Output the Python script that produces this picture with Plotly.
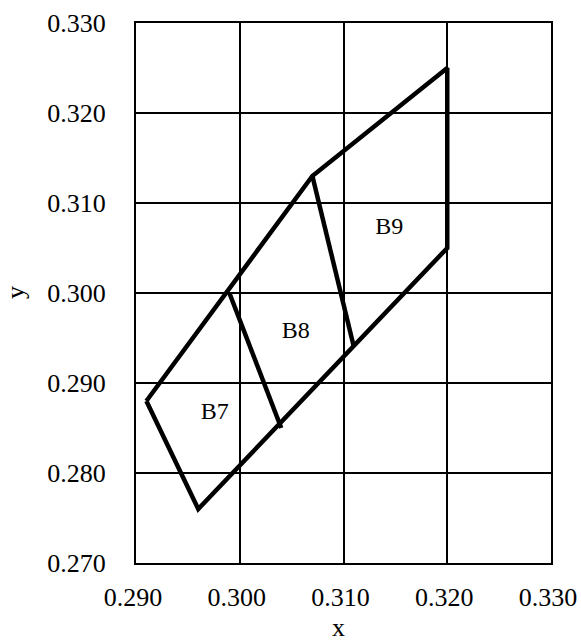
import plotly.graph_objects as go

# Outline of the B7-B9 region (closed polygon)
outline_x = [0.291, 0.296, 0.320, 0.320, 0.307, 0.291]
outline_y = [0.288, 0.276, 0.305, 0.325, 0.313, 0.288]

# Divider lines between bins
div1_x = [0.299, 0.304]
div1_y = [0.300, 0.285]
div2_x = [0.307, 0.311]
div2_y = [0.313, 0.294]

# Bin labels
label_text = ["B7", "B8", "B9"]
label_x = [0.2976, 0.3054, 0.3144]
label_y = [0.2867, 0.2957, 0.3072]

x_ticks = [0.290, 0.300, 0.310, 0.320, 0.330]
y_ticks = [0.270, 0.280, 0.290, 0.300, 0.310, 0.320, 0.330]

FONT = "Liberation Serif, Times New Roman, serif"

fig = go.Figure()
line_style = dict(color="black", width=4.5)
fig.add_trace(go.Scatter(x=outline_x, y=outline_y, mode="lines", line=line_style,
                         showlegend=False, hoverinfo="skip"))
fig.add_trace(go.Scatter(x=div1_x, y=div1_y, mode="lines", line=line_style,
                         showlegend=False, hoverinfo="skip"))
fig.add_trace(go.Scatter(x=div2_x, y=div2_y, mode="lines", line=line_style,
                         showlegend=False, hoverinfo="skip"))
fig.add_trace(go.Scatter(x=label_x, y=label_y, mode="text", text=label_text,
                         textfont=dict(family=FONT, size=24, color="black"),
                         showlegend=False, hoverinfo="skip"))

fig.update_layout(
    width=581, height=641,
    margin=dict(l=136, r=30, t=23, b=78, autoexpand=False),
    paper_bgcolor="white", plot_bgcolor="white",
    font=dict(family=FONT, size=26, color="black"),
    xaxis=dict(range=[0.290, 0.330], tickvals=x_ticks,
               ticktext=[f"{v:.3f}" for v in x_ticks],
               showgrid=True, gridcolor="black", gridwidth=2,
               showline=True, linecolor="black", linewidth=2, mirror=True,
               zeroline=False, ticks="", ticklabelstandoff=10,
               ticklabelshift=-3,
               tickfont=dict(size=26), automargin=False),
    yaxis=dict(range=[0.270, 0.330], tickvals=y_ticks,
               ticktext=[f"{v:.3f}" for v in y_ticks],
               showgrid=True, gridcolor="black", gridwidth=2,
               showline=True, linecolor="black", linewidth=2, mirror=True,
               zeroline=False, ticks="", ticklabelstandoff=23,
               tickfont=dict(size=26), automargin=False),
    annotations=[
        dict(text="x", xref="paper", yref="paper", x=0.489, y=0,
             xanchor="center", yanchor="middle", yshift=-64,
             showarrow=False, font=dict(family=FONT, size=26, color="black")),
        dict(text="y", xref="paper", yref="paper", x=0, y=0.5, textangle=-90,
             xanchor="center", yanchor="middle", xshift=-121,
             showarrow=False, font=dict(family=FONT, size=26, color="black")),
    ],
)

# remove the default page margin so the figure fills the 581x641 window exactly
fig.write_html(
    "out.html",
    config={"displayModeBar": False},
    post_script="document.body.style.margin='0';document.body.style.overflow='hidden';",
)
